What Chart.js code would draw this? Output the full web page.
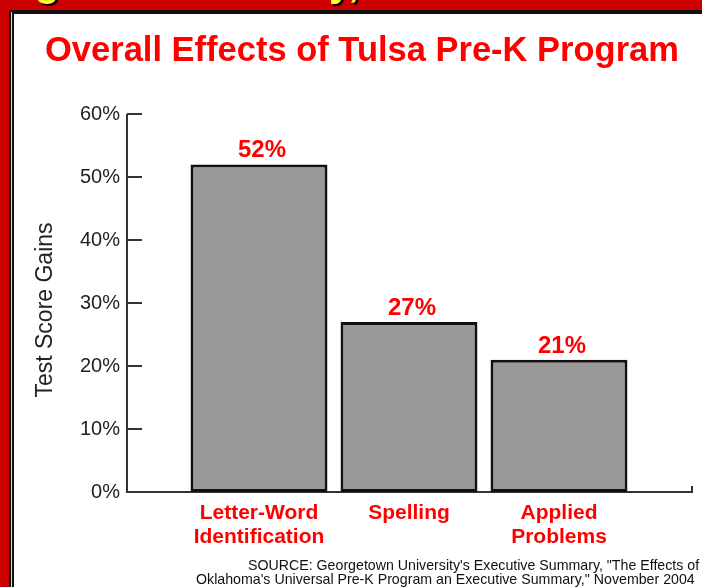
<!DOCTYPE html>
<html>
<head>
<meta charset="utf-8">
<script src="https://cdn.jsdelivr.net/npm/chart.js@4"></script>
<style>
  html, body { margin: 0; padding: 0; background: #cc0000; }
  #wrap { width: 702px; height: 587px; position: relative; }
</style>
</head>
<body>
<div id="wrap"><canvas id="chart"></canvas></div>
<script>
// 데이터
const categories = [['Letter-Word', 'Identification'], 'Spelling', ['Applied', 'Problems']];
const gains = [52, 27, 21];
const yTicks = [0, 10, 20, 30, 40, 50, 60];
const titleText = 'Overall Effects of Tulsa Pre-K Program';
const axisTitle = 'Test Score Gains';
const sourceLines = [
    'SOURCE: Georgetown University\'s Executive Summary, "The Effects of',
    'Oklahoma\'s Universal Pre-K Program an Executive Summary," November 2004'
];

Chart.defaults.font.family = '"Liberation Sans", Arial, sans-serif';

// 배경, 테두리, 제목
const framePlugin = {
    id: 'frame',
    beforeDraw(chart) {
        const ctx = chart.ctx;
        const w = chart.width, h = chart.height;
        ctx.save();
        ctx.fillStyle = '#cc0000';
        ctx.fillRect(0, 0, w, h);
        // 위쪽 잘린 노란 글자
        ctx.save();
        ctx.beginPath();
        ctx.rect(0, 0, w, 10);
        ctx.clip();
        ctx.font = 'bold 40px "Liberation Sans"';
        ctx.textBaseline = 'alphabetic';
        ctx.fillStyle = '#000';
        ctx.fillText('g', 37, -2);
        ctx.fillText('y,', 331, -2);
        ctx.fillStyle = '#ffff33';
        ctx.fillText('g', 35, -4);
        ctx.fillText('y,', 329, -4);
        ctx.restore();
        // 검은 이중선
        ctx.fillStyle = '#111';
        ctx.fillRect(9, 10, w - 9, h - 10);
        ctx.fillStyle = '#ddd';
        ctx.fillRect(11, 12, w - 11, h - 12);
        ctx.fillStyle = '#111';
        ctx.fillRect(12, 12, w - 12, h - 12);
        ctx.fillStyle = '#fff';
        ctx.fillRect(14, 14, w - 14, h - 14);

        ctx.fillStyle = '#ff0000';
        ctx.font = 'bold 34.5px "Liberation Sans"';
        ctx.textAlign = 'center';
        ctx.fillText(titleText, 362, 61);

        // 세로축 제목
        ctx.save();
        ctx.translate(52, 310);
        ctx.rotate(-Math.PI / 2);
        ctx.fillStyle = '#222';
        ctx.font = '23px "Liberation Sans"';
        ctx.textAlign = 'center';
        ctx.fillText(axisTitle, 0, 0);
        ctx.restore();
        ctx.restore();
    },
    afterDraw(chart) {
        const ctx = chart.ctx;
        ctx.save();
        ctx.fillStyle = '#111';
        ctx.font = '14.2px "Liberation Sans"';
        ctx.textAlign = 'left';
        ctx.fillText(sourceLines[0], 248, 570);
        ctx.fillText(sourceLines[1], 196, 584);
        ctx.restore();
    }
};

// 축선 그리기
const axisPlugin = {
    id: 'axisLines',
    beforeDatasetsDraw(chart) {
        const ctx = chart.ctx;
        const y = chart.scales.y;
        const area = chart.chartArea;
        const x0 = area.left - 57;
        const x1 = area.right + 58;
        const yb = y.getPixelForValue(0);
        ctx.save();
        ctx.strokeStyle = '#333';
        ctx.lineWidth = 2;
        ctx.beginPath();
        ctx.moveTo(x0, y.getPixelForValue(60));
        ctx.lineTo(x0, yb);
        ctx.lineTo(x1, yb);
        ctx.lineTo(x1, yb - 6);
        yTicks.forEach(v => {
            const py = y.getPixelForValue(v);
            ctx.moveTo(x0, py);
            ctx.lineTo(x0 + 15, py);
        });
        ctx.stroke();
        ctx.restore();
    },
    afterDatasetsDraw(chart) {
        const ctx = chart.ctx;
        const meta = chart.getDatasetMeta(0);
        ctx.save();
        ctx.fillStyle = '#ff0000';
        ctx.font = 'bold 24px "Liberation Sans"';
        ctx.textAlign = 'center';
        ctx.textBaseline = 'alphabetic';
        meta.data.forEach((bar, i) => {
            ctx.fillText(gains[i] + '%', bar.x + 3, bar.y - 7);
        });
        ctx.restore();
    }
};

new Chart(document.getElementById('chart'), {
    type: 'bar',
    data: {
        labels: categories,
        datasets: [{
            data: gains,
            backgroundColor: '#999999',
            borderColor: '#111111',
            borderWidth: 3,
            borderSkipped: false,
            categoryPercentage: 1,
            barPercentage: 0.913
        }]
    },
    options: {
        responsive: true,
        maintainAspectRatio: false,
        animation: false,
        layout: { padding: { top: 114, right: 68, left: 0, bottom: 0 } },
        plugins: { legend: { display: false }, tooltip: { enabled: false } },
        scales: {
            x: {
                grid: { display: false },
                border: { display: false },
                ticks: {
                    color: '#ff0000',
                    font: { size: 21, weight: 'bold', lineHeight: 1.14 },
                    padding: 1,
                    maxRotation: 0,
                    autoSkip: false
                },
                afterFit(scale) { scale.height = 95; }
            },
            y: {
                min: 0,
                max: 60,
                grid: { display: false },
                border: { display: false },
                ticks: {
                    stepSize: 10,
                    color: '#222',
                    font: { size: 20 },
                    padding: 56,
                    callback: v => v + '%'
                },
                afterFit(scale) { scale.width = 184; }
            }
        }
    },
    plugins: [framePlugin, axisPlugin]
});
</script>
</body>
</html>
